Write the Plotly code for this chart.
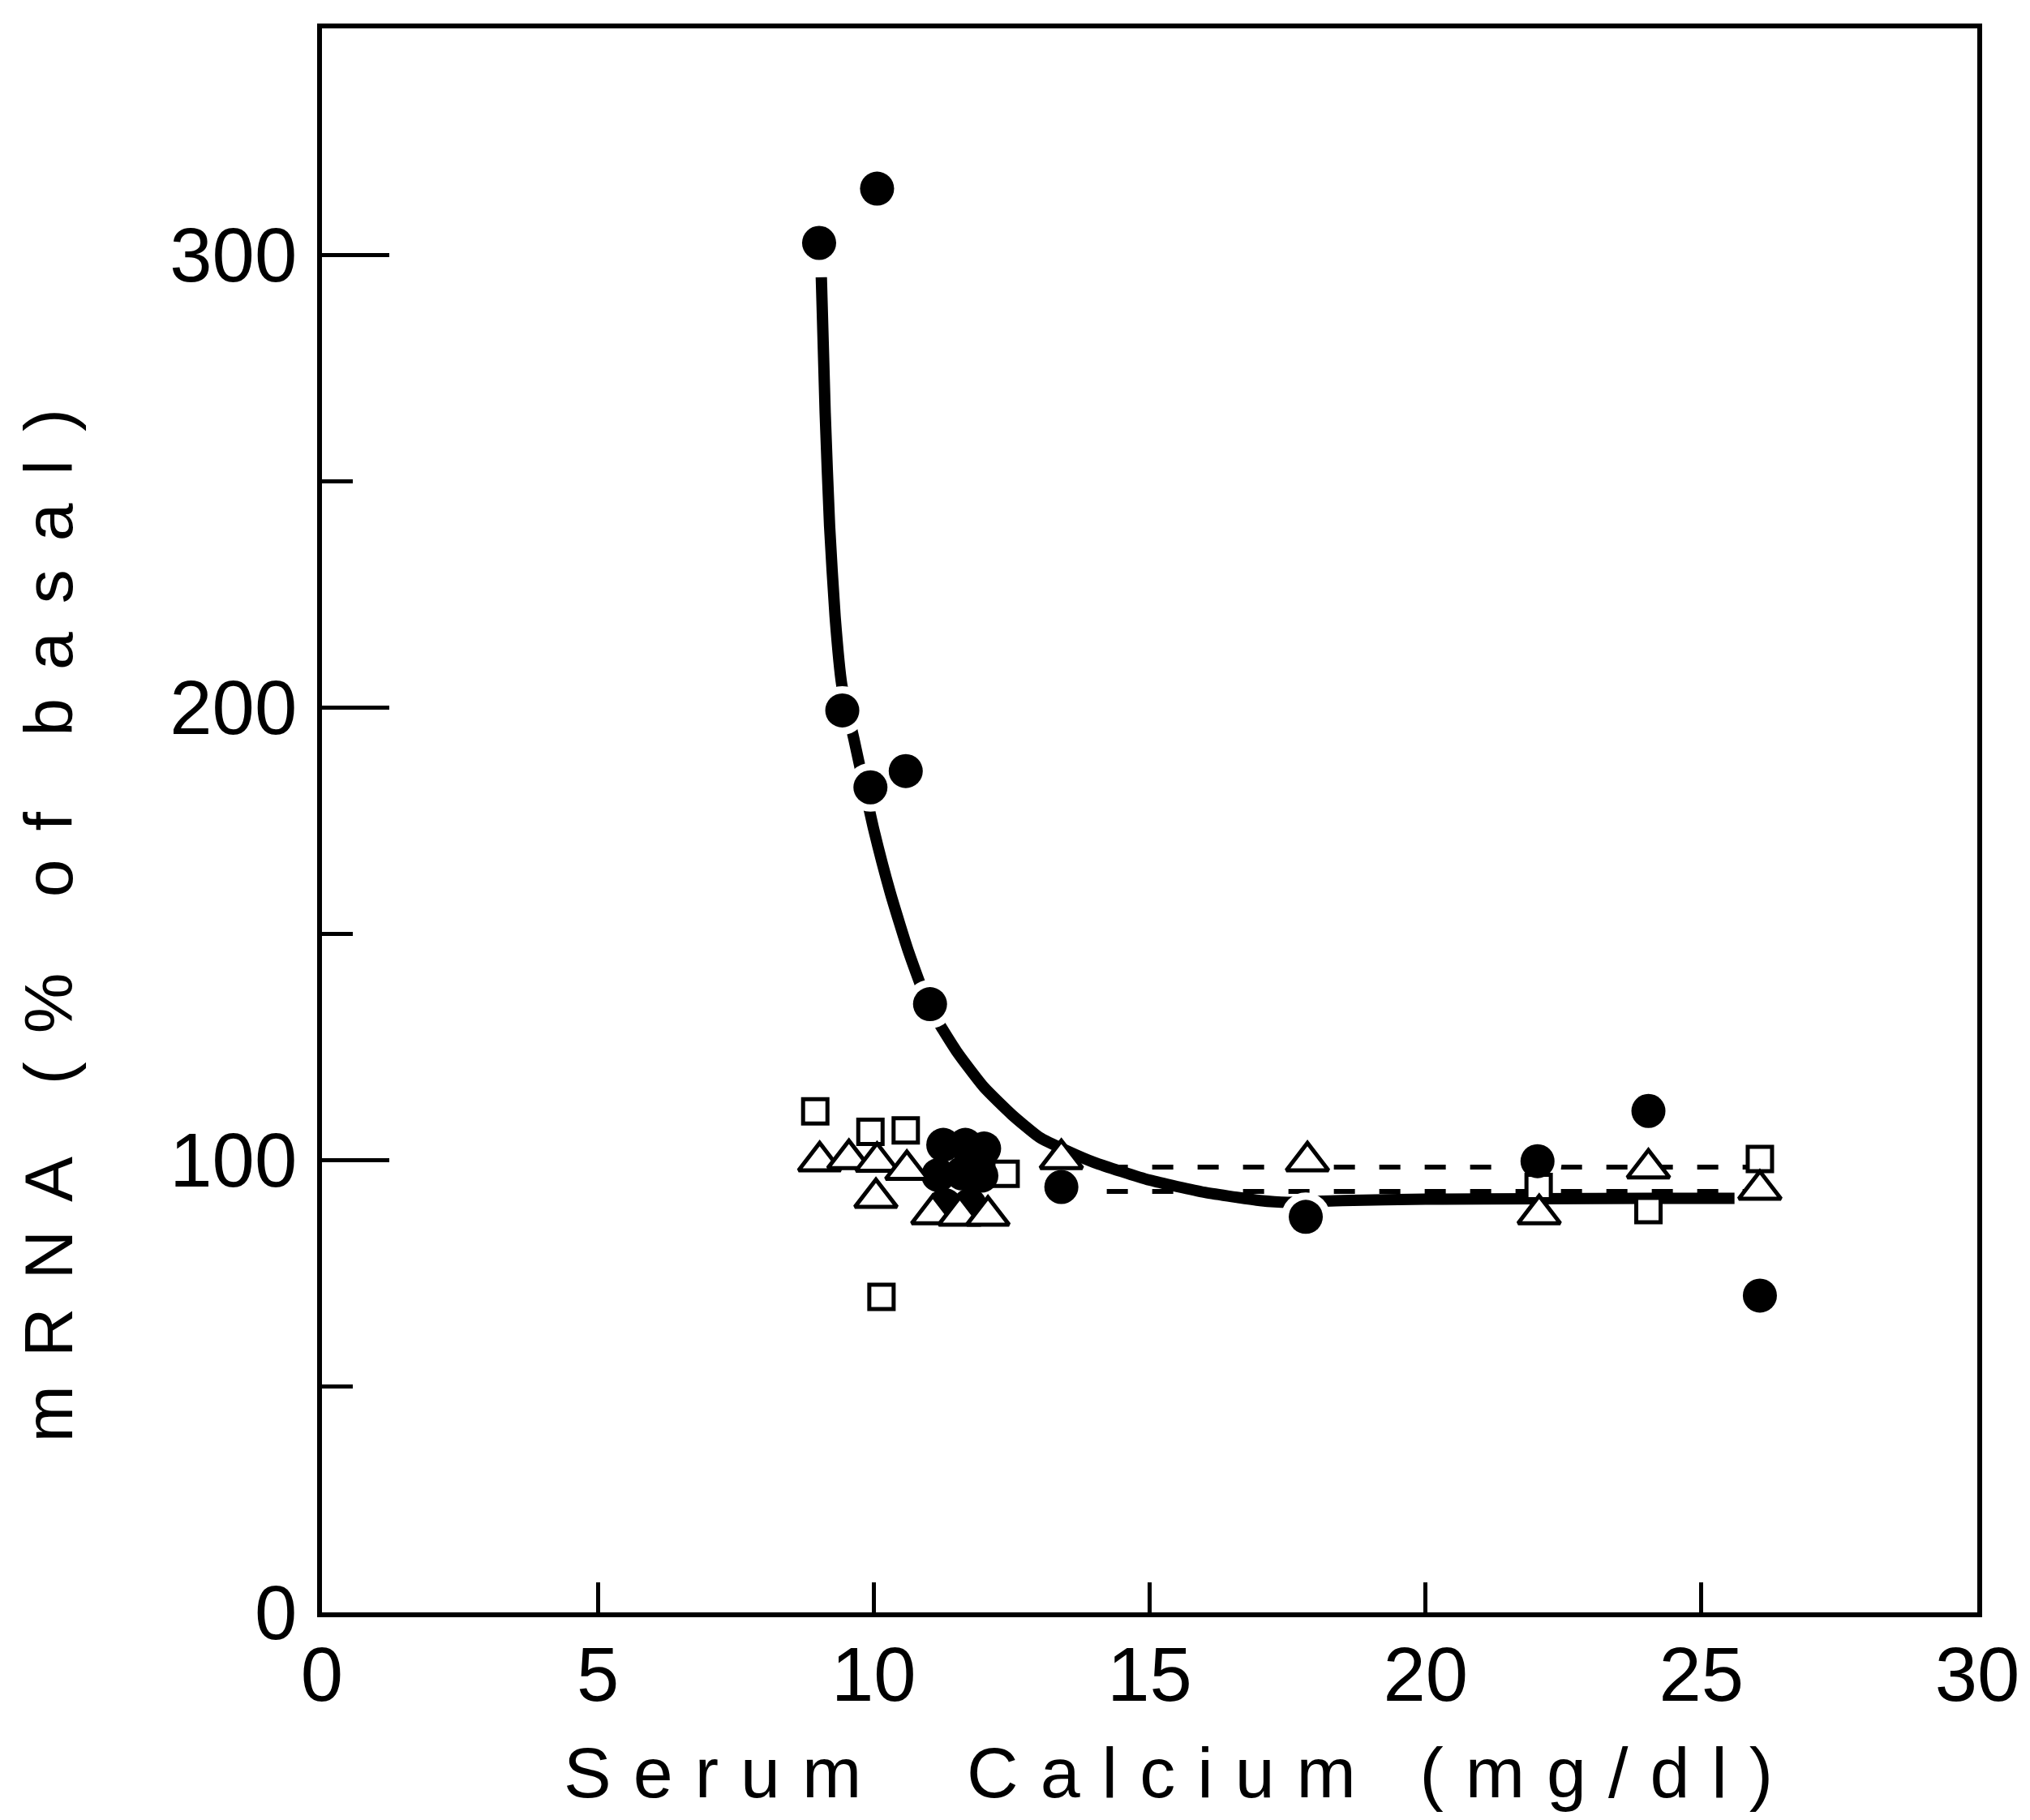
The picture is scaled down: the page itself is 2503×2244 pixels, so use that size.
import plotly.graph_objects as go

# ---- data ----
# filled circles lying on / near the fitted curve and elsewhere
circle_x = [9.01, 10.06, 9.43, 10.58, 9.94, 11.02, 13.40, 17.83, 22.03, 24.04, 26.06]
circle_y = [302.6, 314.6, 199.3, 185.9, 182.3, 134.4, 94.0, 87.4, 99.7, 110.8, 70.0]
# filled circles overlapping in the dense cluster
cluster_x = [11.26, 11.66, 12.00, 11.17, 11.60, 11.95, 11.29, 11.74]
cluster_y = [103.3, 103.3, 102.5, 96.6, 97.0, 96.5, 90.0, 90.0]
# open squares
square_x = [8.94, 9.94, 10.58, 12.39, 10.14, 22.05, 24.04, 26.06]
square_y = [110.7, 106.2, 106.5, 96.9, 69.7, 94.0, 88.9, 100.2]
# open triangles
tri_x = [9.02, 9.55, 10.06, 10.04, 10.60, 11.07, 11.56, 12.07, 13.40, 17.86, 22.06, 24.04, 26.06]
tri_y = [99.7, 100.2, 99.6, 91.6, 97.8, 88.0, 87.7, 87.7, 100.2, 99.7, 88.0, 98.1, 93.4]
# hand-drawn curve through the filled circles
curve_x = [9.05, 9.12, 9.20, 9.30, 9.42, 9.64, 9.80, 10.0, 10.3, 10.63, 11.0, 11.5, 12.0,
           12.5, 13.0, 13.5, 14.0, 15.0, 16.0, 17.0, 17.5, 18.5, 20.0, 22.0, 24.0, 25.6]
curve_y = [295, 265, 240, 220, 205, 193, 184, 173, 159, 146, 134, 124, 116,
           110, 105, 102, 99.4, 95.5, 92.8, 91.0, 90.6, 91.0, 91.3, 91.4, 91.5, 91.5]
# thin dashed lines (open symbols)
upper_dash_x = [13.4, 26.0]
upper_dash_y = [98.4, 98.4]
lower_dash_x = [13.4, 26.0]
lower_dash_y = [93.0, 93.0]

x_ticks = [0, 5, 10, 15, 20, 25, 30]
y_ticks = [0, 100, 200, 300]

FONT = "Liberation Sans"
fig = go.Figure()

fig.add_trace(go.Scatter(x=curve_x, y=curve_y, mode="lines",
                         line=dict(color="black", width=14, shape="spline", smoothing=0.5),
                         showlegend=False, hoverinfo="skip"))
fig.add_trace(go.Scatter(x=upper_dash_x, y=upper_dash_y, mode="lines",
                         line=dict(color="black", width=6, dash="26px,30px"),
                         showlegend=False, hoverinfo="skip"))
fig.add_trace(go.Scatter(x=lower_dash_x, y=lower_dash_y, mode="lines",
                         line=dict(color="black", width=6, dash="26px,30px"),
                         showlegend=False, hoverinfo="skip"))
# white halos that break the curve around the circles
fig.add_trace(go.Scatter(x=circle_x, y=circle_y, mode="markers",
                         marker=dict(symbol="circle", size=60, color="white", line=dict(width=0)),
                         showlegend=False, hoverinfo="skip"))
fig.add_trace(go.Scatter(x=square_x, y=square_y, mode="markers",
                         marker=dict(symbol="square", size=30, color="white",
                                     line=dict(color="black", width=5)),
                         showlegend=False))
fig.add_trace(go.Scatter(x=circle_x, y=circle_y, mode="markers",
                         marker=dict(symbol="circle", size=42, color="black", line=dict(width=0)),
                         showlegend=False))
fig.add_trace(go.Scatter(x=cluster_x, y=cluster_y, mode="markers",
                         marker=dict(symbol="circle", size=42, color="black", line=dict(width=0)),
                         showlegend=False))
fig.add_trace(go.Scatter(x=tri_x, y=tri_y, mode="markers",
                         marker=dict(symbol="triangle-up", size=45, color="white",
                                     line=dict(color="black", width=5)),
                         showlegend=False))

fig.update_xaxes(range=[0, 30], tickvals=x_ticks, ticktext=[str(v) for v in x_ticks],
                 ticks="inside", ticklen=37, tickwidth=5, tickcolor="black",
                 showline=True, linewidth=6, linecolor="black", mirror=True,
                 showgrid=False, zeroline=False, ticklabelstandoff=-10,
                 tickfont=dict(family=FONT, size=94, color="black"))
fig.update_yaxes(range=[0, 350], tickvals=y_ticks, ticktext=[str(v) for v in y_ticks],
                 ticks="inside", ticklen=83, tickwidth=5, tickcolor="black",
                 minor=dict(ticks="inside", ticklen=38, tickwidth=5, tickcolor="black", dtick=50, showgrid=False),
                 showline=True, linewidth=6, linecolor="black", mirror=True,
                 showgrid=False, zeroline=False, ticklabelstandoff=6,
                 tickfont=dict(family=FONT, size=94, color="black"))

fig.add_annotation(text='<span style="letter-spacing:27px;white-space:pre">Serum  Calcium (mg/dl)</span>',
                   xref="paper", yref="paper", x=0.518, y=-0.101,
                   xanchor="center", yanchor="middle", showarrow=False,
                   font=dict(family=FONT, size=88, color="black"))
fig.add_annotation(text='<span style="letter-spacing:35px;white-space:pre">mRNA (% of basal)</span>',
                   xref="paper", yref="paper", x=-0.165, y=0.4424, textangle=-90,
                   xanchor="center", yanchor="middle", showarrow=False,
                   font=dict(family=FONT, size=84, color="black"))

fig.update_layout(width=2503, height=2244,
                  margin=dict(l=397, r=65, t=35, b=256),
                  paper_bgcolor="white", plot_bgcolor="white",
                  showlegend=False)

fig.write_html("out.html")
